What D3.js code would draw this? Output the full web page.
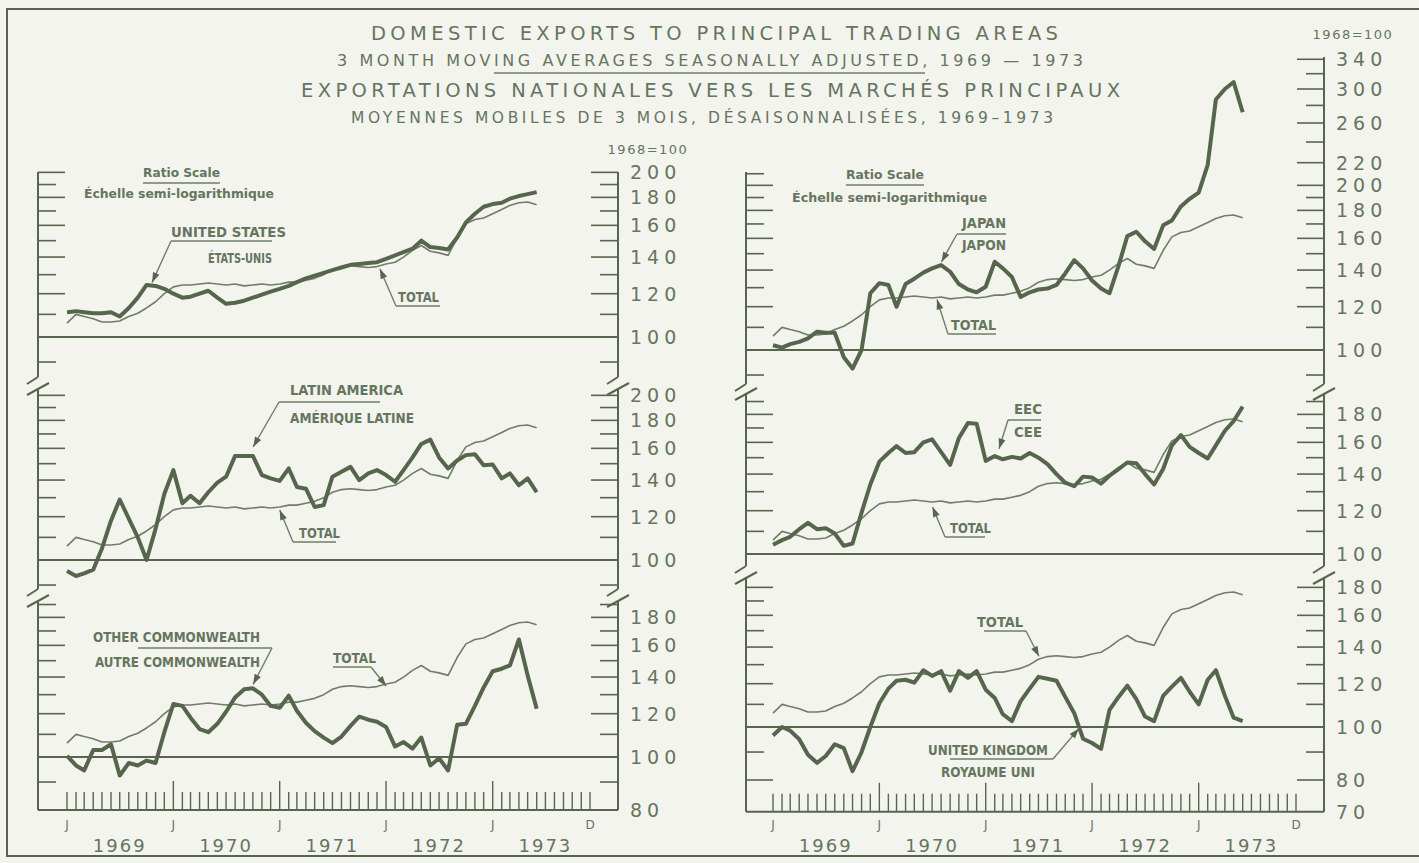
<!DOCTYPE html>
<html>
<head>
<meta charset="utf-8">
<script src="https://cdn.jsdelivr.net/npm/d3@7"></script>
<style>
  body { margin: 0; background: #f3f4ee; }
  svg text { font-family: "DejaVu Sans", sans-serif; fill: #66755e; }
  svg text.lab { font-family: "Liberation Sans Narrow", "DejaVu Sans Condensed", sans-serif; font-weight: bold; }
</style>
</head>
<body>
<div id="chart"></div>
<script>
const width = 1419;
const height = 863;

// 1968 = 100, 3 month moving averages, monthly from Jan 1969
const total = [106, 110, 109, 108, 106.5, 106.5, 107, 109, 110.5, 113, 116, 120,
  123.5, 124.5, 124.5, 125, 125.5, 125, 124.5, 125, 124, 124.5, 125, 124.5,
  125, 126, 126, 127, 128, 130, 133, 134.5, 135, 134.5, 134, 134.5,
  136, 137, 140, 144, 147, 143.5, 142.5, 141, 152, 161, 164, 165,
  168, 171, 174, 176, 176.5, 174.5];

const unitedStates = [111, 111.5, 111, 110.5, 110.5, 111, 109, 113, 118, 124.5, 124, 122.5,
  120, 118, 118.5, 120, 121.5, 118, 115, 115.5, 116.5, 118, 119.5, 121,
  122.5, 124, 126, 128, 129.5, 131, 132.5, 134, 135.5, 136, 136.5, 137,
  139, 141, 143, 145, 150, 146, 145.5, 144.5, 152, 162, 168, 173,
  175, 176, 179, 181, 182.5, 184];

const latinAmerica = [95.5, 93.5, 94.5, 96, 105, 118, 129, 119, 110, 100, 114, 132,
  146, 127, 131, 127, 133, 138.5, 142, 155, 155, 155, 143, 141,
  139.5, 147, 136, 135, 125, 126, 142, 145, 148, 140, 144, 146,
  143, 139, 146, 154, 163, 166, 154, 147, 152, 155.5, 156, 149,
  149.5, 141, 144, 137, 141, 133];

const otherCommonwealth = [100.5, 96.5, 94.5, 103, 103, 105.5, 92.5, 97.5, 96.5, 98.5, 97.5, 111,
  125, 124, 118, 112.5, 111, 115, 121, 128.5, 133, 133.5, 130, 124,
  123, 129.5, 121.5, 115.5, 111.5, 108.5, 106, 109, 114, 118.5, 117, 116,
  113.5, 104.5, 106.5, 103.6, 108.5, 96.5, 99.5, 94.5, 114.5, 115, 124, 134,
  143.5, 145, 147, 164, 141, 122.5];

const japan = [102, 101, 102.5, 103.5, 105, 108, 107.5, 107.5, 97, 92.5, 100, 127,
  132.5, 131.5, 120, 132, 135, 138.5, 141, 143, 139, 132, 129, 127.5,
  130.5, 145, 141, 136, 125, 127.5, 129, 129.5, 131.5, 138, 146, 141,
  134, 129.5, 127, 142.5, 161.5, 164.5, 158, 153, 169, 172.5, 183, 189,
  194, 218, 287, 300, 309, 272];

const eec = [104, 106, 107.5, 111, 114, 111, 111.5, 109, 103.5, 104.5, 119, 134,
  147.5, 153, 157.5, 153, 153.5, 160, 162, 153.5, 145.5, 163, 173.5, 173,
  148, 151, 149, 150.5, 149.5, 153, 150, 146, 140, 135, 133, 138.5,
  138, 134.5, 139, 143, 147, 146.5, 140, 134, 143, 158, 165, 157,
  153, 149.5, 158, 168, 175, 186];

const unitedKingdom = [96.5, 100, 98.5, 95, 89, 86, 88.5, 93, 91.5, 83, 90, 100,
  110.5, 117.5, 121.5, 122, 120.5, 127, 124, 126.5, 116.5, 126.5, 123, 126.5,
  117, 113, 105.5, 102.5, 111.5, 117.5, 123.5, 122.5, 121.5, 113.5, 106, 95.2,
  93.5, 91.2, 107.5, 113.5, 119, 112.5, 104.5, 102.5, 114, 118.5, 123, 116,
  110, 122, 127, 114, 104, 102.5];

const yearLabels = ["1969", "1970", "1971", "1972", "1973"];
const monthMarks = [["J", 0], ["J", 12], ["J", 24], ["J", 36], ["J", 48], ["D", 59]];

const labels100to200 = [100, 120, 140, 160, 180, 200];
const labelsOC = [80, 100, 120, 140, 160, 180];
const labelsJapan = [100, 120, 140, 160, 180, 200, 220, 260, 300, 340];
const labelsEEC = [100, 120, 140, 160, 180];
const labelsUK = [70, 80, 100, 120, 140, 160, 180];

const ink = "#56664d";
const fine = "#6f7e67";
const decade = 547;

const svg = d3.select("#chart").append("svg")
    .attr("width", width)
    .attr("height", height);

svg.append("rect").attr("width", width).attr("height", height).attr("fill", "#f3f4ee");
svg.append("path")
    .attr("d", `M${width},9 L7,9 L7,856 L${width},856`)
    .attr("fill", "none").attr("stroke", ink).attr("stroke-width", 2);

const start = new Date(1969, 0, 1);
const monthDate = i => d3.timeMonth.offset(start, i);

const columns = [
    {x0: 38, x1: 618, m0: 67, m1: 590},
    {x0: 746, x1: 1324, m0: 773, m1: 1296}
];
columns.forEach(c => {
    c.x = d3.scaleTime().domain([monthDate(0), monthDate(59)]).range([c.m0, c.m1]);
    c.xm = d3.scaleLinear().domain([0, 59]).range([c.m0, c.m1]);
});

const panels = [
    {col: 0, base: 337, leftTop: 172, rightTop: 172, bottom: 377, breakBottom: true,
     leftTicks: d3.range(90, 201, 10), rightTicks: d3.range(90, 201, 10), labels: labels100to200, main: unitedStates},
    {col: 0, base: 560, leftTop: 389, rightTop: 389, bottom: 589, breakTop: true, breakBottom: true,
     leftTicks: d3.range(90, 201, 10), rightTicks: d3.range(90, 201, 10), labels: labels100to200, main: latinAmerica},
    {col: 0, base: 757, leftTop: 601, rightTop: 601, bottomValue: 80, breakTop: true,
     leftTicks: d3.range(90, 191, 10), rightTicks: d3.range(90, 191, 10), labels: labelsOC, main: otherCommonwealth},
    {col: 1, base: 350, leftTop: 172, rightTop: 57, bottom: 384, breakBottom: true,
     leftTicks: d3.range(90, 211, 10), rightTicks: d3.range(90, 201, 10).concat(d3.range(220, 341, 20)), labels: labelsJapan, main: japan},
    {col: 1, base: 554, leftTop: 394, rightTop: 394, bottom: 566, breakTop: true, breakBottom: true,
     leftTicks: d3.range(100, 191, 10), rightTicks: d3.range(100, 191, 10), labels: labelsEEC, main: eec},
    {col: 1, base: 727, leftTop: 578, rightTop: 578, bottomValue: 70, breakTop: true,
     leftTicks: d3.range(80, 181, 10), rightTicks: d3.range(80, 181, 10), labels: labelsUK, main: unitedKingdom}
];

panels.forEach(p => {
    const c = columns[p.col];
    const y = d3.scaleLog().domain([100, 200]).range([p.base, p.base - decade * Math.log10(2)]);
    p.y = y;
    const bottom = p.bottomValue ? y(p.bottomValue) : p.bottom;
    const g = svg.append("g");

    // axes
    g.append("line").attr("x1", c.x0).attr("x2", c.x0).attr("y1", p.leftTop).attr("y2", bottom)
        .attr("stroke", ink).attr("stroke-width", 2);
    g.append("line").attr("x1", c.x1).attr("x2", c.x1).attr("y1", p.rightTop).attr("y2", bottom)
        .attr("stroke", ink).attr("stroke-width", 2);
    g.append("line").attr("x1", c.x0).attr("x2", c.x1).attr("y1", y(100)).attr("y2", y(100))
        .attr("stroke", ink).attr("stroke-width", 2);
    if (p.bottomValue) {
        g.append("line").attr("x1", c.x0).attr("x2", c.x1).attr("y1", bottom).attr("y2", bottom)
            .attr("stroke", ink).attr("stroke-width", 2);
    }

    g.selectAll(".lt").data(p.leftTicks).enter().append("line")
        .attr("x1", c.x0).attr("x2", d => c.x0 + (p.labels.includes(d) ? 27 : 18))
        .attr("y1", d => y(d)).attr("y2", d => y(d))
        .attr("stroke", ink).attr("stroke-width", 1.6);
    g.selectAll(".rt").data(p.rightTicks).enter().append("line")
        .attr("x1", c.x1).attr("x2", d => c.x1 - (p.labels.includes(d) ? 27 : 18))
        .attr("y1", d => y(d)).attr("y2", d => y(d))
        .attr("stroke", ink).attr("stroke-width", 1.6);
    g.selectAll(".rl").data(p.labels).enter().append("text")
        .attr("x", c.x1 + 12).attr("y", d => y(d) + 7)
        .attr("font-size", 19).attr("letter-spacing", 5)
        .text(d => d);

    // scale breaks
    [c.x0, c.x1].forEach(ax => {
        if (p.breakBottom) {
            g.append("path").attr("d", `M${ax},${p.bottom} L${ax - 11},${p.bottom + 7}`)
                .attr("stroke", ink).attr("stroke-width", 2).attr("fill", "none");
        }
        if (p.breakTop) {
            g.append("path").attr("d", `M${ax - 11},${p.leftTop + 6} L${ax + 11},${p.leftTop - 6}`)
                .attr("stroke", ink).attr("stroke-width", 2).attr("fill", "none");
        }
    });

    const line = d3.line()
        .x((d, i) => c.x(monthDate(i)))
        .y(d => y(d));
    g.append("path").datum(total).attr("d", line)
        .attr("fill", "none").attr("stroke", fine).attr("stroke-width", 1.6).attr("stroke-linejoin", "round");
    g.append("path").datum(p.main).attr("d", line)
        .attr("fill", "none").attr("stroke", ink).attr("stroke-width", 4).attr("stroke-linejoin", "round");

    // month axis at the bottom
    if (p.bottomValue) {
        const ticks = d3.range(0, 60);
        g.selectAll(".mt").data(ticks).enter().append("line")
            .attr("x1", d => c.x(monthDate(d))).attr("x2", d => c.x(monthDate(d)))
            .attr("y1", d => bottom - (d % 12 === 0 && d > 0 ? 29 : 18)).attr("y2", bottom)
            .attr("stroke", ink).attr("stroke-width", 1.4);
        g.selectAll(".ml").data(monthMarks).enter().append("text")
            .attr("x", d => c.x(monthDate(d[1]))).attr("y", 829)
            .attr("text-anchor", "middle").attr("font-size", 12)
            .text(d => d[0]);
        g.selectAll(".yl").data(yearLabels).enter().append("text")
            .attr("x", (d, i) => c.x(monthDate(i * 12 + 6))).attr("y", 852)
            .attr("text-anchor", "middle").attr("font-size", 18).attr("letter-spacing", 2)
            .text(d => d);
    }
});

function valueAt(series, m) {
    const i = Math.floor(m), f = m - i;
    return series[i] * (1 - f) + series[Math.min(i + 1, series.length - 1)] * f;
}

// labels with leaders and arrows
const notes = [
    {p: 0, lines: [["UNITED STATES", 171, 286, 232], ["ÉTATS-UNIS", 208, 272, 258]], under: [171, 272, 241], from: [171, 241], s: "main", m: 9.6, dy: -3},
    {p: 0, lines: [["TOTAL", 398, 439, 297]], under: [396, 440, 306], from: [396, 306], s: "total", m: 35.3, dy: 3},
    {p: 1, lines: [["LATIN AMERICA", 290, 403, 390], ["AMÉRIQUE LATINE", 290, 414, 418]], under: [279, 380, 402], from: [279, 402], s: "main", m: 21, dy: -9},
    {p: 1, lines: [["TOTAL", 299, 340, 533]], under: [293, 336, 542], from: [293, 542], s: "total", m: 24, dy: 3},
    {p: 2, lines: [["OTHER COMMONWEALTH", 93, 260, 637], ["AUTRE COMMONWEALTH", 95, 260, 662]], under: [138, 272, 648], from: [272, 648], s: "main", m: 21, dy: -4},
    {p: 2, lines: [["TOTAL", 333, 376, 658]], under: [333, 371, 667], from: [371, 667], s: "total", m: 36, dy: 2},
    {p: 3, lines: [["JAPAN", 962, 1006, 223], ["JAPON", 962, 1006, 245]], under: [957, 1006, 234], from: [957, 234], s: "main", m: 19, dy: -3},
    {p: 3, lines: [["TOTAL", 951, 996, 325]], under: [948, 996, 334], from: [948, 334], s: "total", m: 18.5, dy: 2},
    {p: 4, lines: [["EEC", 1014, 1042, 409], ["CEE", 1014, 1042, 432]], under: [1008, 1041, 420], from: [1008, 420], s: "main", m: 25.5, dy: -9},
    {p: 4, lines: [["TOTAL", 950, 991, 528]], under: [945, 985, 537], from: [945, 537], s: "total", m: 18, dy: 5},
    {p: 5, lines: [["TOTAL", 977, 1023, 622]], under: [984, 1026, 631], from: [1026, 631], s: "total", m: 30, dy: -3},
    {p: 5, lines: [["UNITED KINGDOM", 928, 1048, 750], ["ROYAUME UNI", 941, 1035, 772]], under: [950, 1053, 759], from: [1053, 759], s: "main", m: 34.5, dy: 3}
];

const ng = svg.append("g");
notes.forEach(n => {
    const p = panels[n.p];
    n.lines.forEach(l => {
        ng.append("text").attr("class", "lab")
            .attr("x", l[1]).attr("y", l[3] + 5)
            .attr("font-size", 13.5)
            .attr("textLength", l[2] - l[1]).attr("lengthAdjust", "spacingAndGlyphs")
            .text(l[0]);
    });
    ng.append("line").attr("x1", n.under[0]).attr("x2", n.under[1])
        .attr("y1", n.under[2]).attr("y2", n.under[2])
        .attr("stroke", fine).attr("stroke-width", 1.4);
    const series = n.s === "total" ? total : p.main;
    const tx = columns[p.col].xm(n.m);
    const ty = p.y(valueAt(series, n.m)) + n.dy;
    ng.append("line").attr("x1", n.from[0]).attr("y1", n.from[1]).attr("x2", tx).attr("y2", ty)
        .attr("stroke", fine).attr("stroke-width", 1.4);
    const ang = Math.atan2(ty - n.from[1], tx - n.from[0]);
    const L = 10, hw = 3.5;
    const bx = tx - L * Math.cos(ang), by = ty - L * Math.sin(ang);
    const px = -Math.sin(ang) * hw, py = Math.cos(ang) * hw;
    ng.append("path")
        .attr("d", `M${tx},${ty} L${bx + px},${by + py} L${bx - px},${by - py} Z`)
        .attr("fill", ink);
});

// ratio scale notes
[[143, 220, 172, 84, 274, 193], [846, 924, 174, 792, 987, 197]].forEach(r => {
    ng.append("text").attr("class", "lab").attr("x", r[0]).attr("y", r[2] + 4.5)
        .attr("font-size", 12.5).attr("textLength", r[1] - r[0]).attr("lengthAdjust", "spacingAndGlyphs")
        .text("Ratio Scale");
    ng.append("line").attr("x1", r[0]).attr("x2", r[1]).attr("y1", r[2] + 11).attr("y2", r[2] + 11)
        .attr("stroke", fine).attr("stroke-width", 1.3);
    ng.append("text").attr("class", "lab").attr("x", r[3]).attr("y", r[5] + 4.5)
        .attr("font-size", 12).attr("textLength", r[4] - r[3]).attr("lengthAdjust", "spacingAndGlyphs")
        .text("Échelle semi-logarithmique");
});

// base notes
[[648, 154], [1353, 39]].forEach(b => {
    svg.append("text").attr("x", b[0]).attr("y", b[1]).attr("text-anchor", "middle")
        .attr("font-size", 13).attr("letter-spacing", 1.5).text("1968=100");
});

// titles
const titles = [
    ["DOMESTIC EXPORTS TO PRINCIPAL TRADING AREAS", 371, 1058, 40, 19.5],
    ["3 MONTH MOVING AVERAGES SEASONALLY ADJUSTED, 1969 — 1973", 337, 1083, 66, 16],
    ["EXPORTATIONS NATIONALES VERS LES MARCHÉS PRINCIPAUX", 301, 1120, 97, 19.5],
    ["MOYENNES MOBILES DE 3 MOIS, DÉSAISONNALISÉES, 1969–1973", 351, 1053, 123, 15.5]
];
titles.forEach(t => {
    svg.append("text").attr("x", t[1]).attr("y", t[3]).attr("font-size", t[4])
        .attr("textLength", t[2] - t[1]).attr("lengthAdjust", "spacing")
        .text(t[0]);
});
svg.append("line").attr("x1", 494).attr("x2", 925).attr("y1", 73).attr("y2", 73)
    .attr("stroke", fine).attr("stroke-width", 1.5);
</script>
</body>
</html>
